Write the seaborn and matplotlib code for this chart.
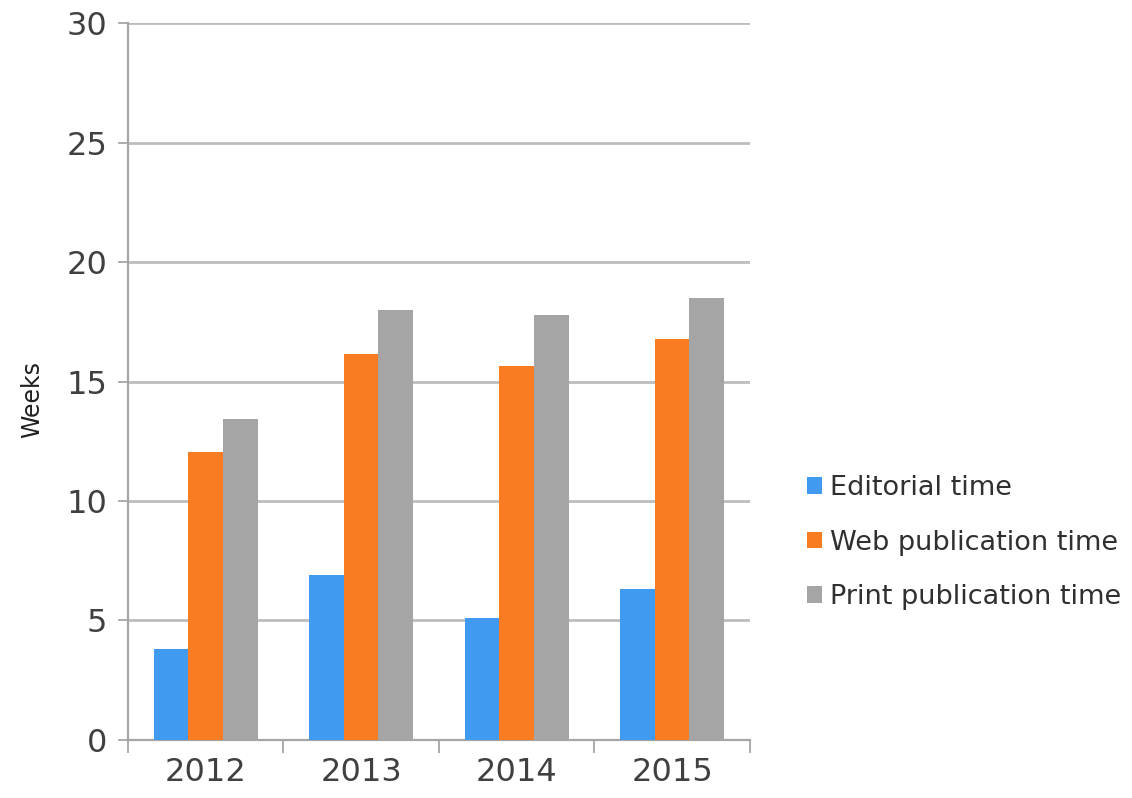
import numpy as np
import pandas as pd
import seaborn as sns
import matplotlib.pyplot as plt
from matplotlib.ticker import FixedLocator

# Data
years = ["2012", "2013", "2014", "2015"]
editorial = [3.8, 6.9, 5.1, 6.3]
web_pub = [12.05, 16.15, 15.65, 16.8]
print_pub = [13.45, 18.0, 17.8, 18.5]
series = ["Editorial time", "Web publication time", "Print publication time"]
colors = ["#409BF0", "#F97C22", "#A5A5A5"]

df = pd.DataFrame({
    "year": years * 3,
    "weeks": editorial + web_pub + print_pub,
    "series": [s for s in series for _ in years],
})

sns.set_style("white")
plt.rcParams["font.family"] = ["DejaVu Sans"]

fig = plt.figure(figsize=(11.32, 7.98), dpi=100)
ax = fig.add_axes([0.113, 0.0727, 0.5495, 0.8984])

sns.barplot(data=df, x="year", y="weeks", hue="series", hue_order=series,
            order=years, palette=colors, saturation=1, width=0.667,
            linewidth=0, ax=ax, zorder=3)

ax.set_ylim(0, 30)
ax.set_xlim(-0.5, 3.5)
ax.set_yticks(range(0, 31, 5))
ax.yaxis.grid(True, color="#BDBDBD", linewidth=2, zorder=0)
ax.set_axisbelow(True)

for side in ["top", "right"]:
    ax.spines[side].set_visible(False)
for side in ["left", "bottom"]:
    ax.spines[side].set_color("#A6A6A6")
    ax.spines[side].set_linewidth(1.6)

ax.tick_params(axis="y", which="major", left=True, length=7, width=1.3,
               color="#A6A6A6", labelsize=23, labelcolor="#404040", pad=8)
ax.tick_params(axis="x", which="major", length=0, labelsize=23,
               labelcolor="#404040", pad=12)
ax.xaxis.set_minor_locator(FixedLocator(np.arange(-0.5, 4, 1.0)))
ax.tick_params(axis="x", which="minor", bottom=True, length=9, width=1.3,
               color="#A6A6A6")

ax.set_xlabel("")
ax.set_ylabel("Weeks", fontsize=17, color="#202020")
ax.yaxis.set_label_coords(-0.135, 0.475)

ax.legend(loc="center left", bbox_to_anchor=(0.713, 0.32),
          bbox_transform=fig.transFigure, frameon=False, fontsize=19.5,
          borderpad=0, borderaxespad=0,
          handlelength=0.55, handleheight=0.55, handletextpad=0.3,
          labelspacing=1.05, labelcolor="#303030")

fig.savefig("out.png", dpi=100)
